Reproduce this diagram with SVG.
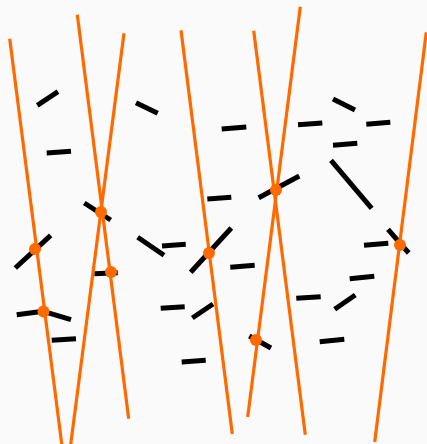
<svg xmlns="http://www.w3.org/2000/svg" width="427" height="444" viewBox="0 0 427 444">
  <style>
    .ray { stroke: #ff6a00; stroke-width: 3.2; fill: none; }
    .seg { stroke: #000; stroke-width: 5; fill: none; }
    .hit { fill: #ff6a00; }
  </style>
  <rect width="427" height="444" fill="#fafafa"/>
  <g id="segments">
    <line class="seg" x1="37.3" y1="105.3" x2="58" y2="91.7"/>
    <line class="seg" x1="136" y1="102.7" x2="157.7" y2="113.3"/>
    <line class="seg" x1="46.7" y1="153" x2="71" y2="151.3"/>
    <line class="seg" x1="84.3" y1="203" x2="110.7" y2="220"/>
    <line class="seg" x1="207.3" y1="199" x2="231.3" y2="197.3"/>
    <line class="seg" x1="221.7" y1="129" x2="246.3" y2="127"/>
    <line class="seg" x1="298" y1="124.7" x2="322.3" y2="123"/>
    <line class="seg" x1="333" y1="99" x2="355" y2="110"/>
    <line class="seg" x1="366.3" y1="124.3" x2="390.3" y2="122.3"/>
    <line class="seg" x1="333" y1="145.3" x2="357.3" y2="143.3"/>
    <line class="seg" x1="331" y1="160.3" x2="371.7" y2="208.3"/>
    <line class="seg" x1="258.7" y1="197.7" x2="299.3" y2="176"/>
    <line class="seg" x1="15.3" y1="268" x2="50.7" y2="235.3"/>
    <line class="seg" x1="16.7" y1="314.7" x2="43.3" y2="311.3"/>
    <line class="seg" x1="43.3" y1="311.3" x2="71" y2="319.7"/>
    <line class="seg" x1="51.7" y1="340.3" x2="76" y2="338.7"/>
    <line class="seg" x1="94.3" y1="273.7" x2="117.7" y2="272.7"/>
    <line class="seg" x1="137.7" y1="237.3" x2="164" y2="255.3"/>
    <line class="seg" x1="162" y1="246" x2="185.7" y2="244.3"/>
    <line class="seg" x1="190.7" y1="272.3" x2="231.3" y2="228"/>
    <line class="seg" x1="160.7" y1="308.3" x2="184.7" y2="306.7"/>
    <line class="seg" x1="192.3" y1="318" x2="213" y2="304"/>
    <line class="seg" x1="181.7" y1="362" x2="205.7" y2="360.3"/>
    <line class="seg" x1="230.3" y1="267.3" x2="254.7" y2="265.3"/>
    <line class="seg" x1="296.3" y1="298.3" x2="320.7" y2="296.7"/>
    <line class="seg" x1="334.7" y1="309.3" x2="355.3" y2="295"/>
    <line class="seg" x1="349.7" y1="278.7" x2="374.3" y2="276.3"/>
    <line class="seg" x1="364" y1="245.3" x2="388.3" y2="243.3"/>
    <line class="seg" x1="388" y1="229.3" x2="408.7" y2="253"/>
    <line class="seg" x1="319.7" y1="341.7" x2="344.3" y2="339.3"/>
    <line class="seg" x1="249.3" y1="336" x2="271" y2="348"/>
  </g>
  <g id="rays">
    <line class="ray" x1="9.7" y1="38.7" x2="62" y2="446"/>
    <line class="ray" x1="77.3" y1="14.7" x2="128.7" y2="418.7"/>
    <line class="ray" x1="124" y1="33.3" x2="70.5" y2="446"/>
    <line class="ray" x1="181" y1="30.3" x2="232.3" y2="434"/>
    <line class="ray" x1="253.7" y1="30.7" x2="305.3" y2="434.7"/>
    <line class="ray" x1="300.3" y1="6.7" x2="247.7" y2="417"/>
    <line class="ray" x1="426.3" y1="32.3" x2="374.7" y2="442"/>
  </g>
  <g id="hits">
    <circle class="hit" cx="101" cy="212" r="6"/>
    <circle class="hit" cx="35" cy="249" r="6"/>
    <circle class="hit" cx="111" cy="272" r="6"/>
    <circle class="hit" cx="43.5" cy="311.5" r="6"/>
    <circle class="hit" cx="209" cy="253" r="6"/>
    <circle class="hit" cx="276" cy="190" r="6"/>
    <circle class="hit" cx="256" cy="340" r="6"/>
    <circle class="hit" cx="400" cy="245" r="6"/>
  </g>
</svg>
